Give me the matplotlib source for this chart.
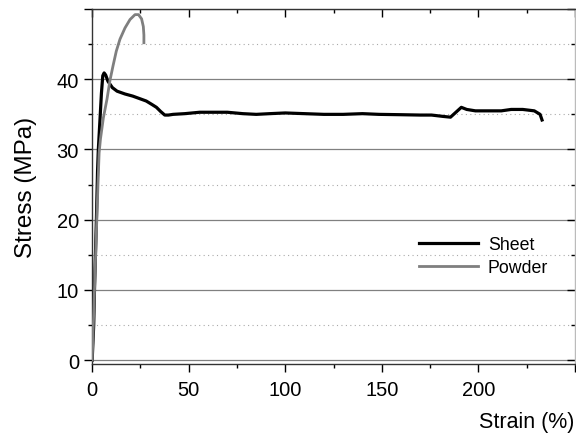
import matplotlib
matplotlib.use('Agg')
import matplotlib.pyplot as plt
from matplotlib.ticker import MultipleLocator, FuncFormatter

plt.rcParams['font.family'] = ['Liberation Sans', 'DejaVu Sans']

# Sheet curve (strain %, stress MPa)
sheet_strain = [0, 0.8, 1.2, 2.2, 2.8, 3.2, 4.0, 4.8, 5.5, 6.2, 7.0, 8.2, 10.5, 12.9, 17, 21, 25, 28,
                31, 33.3, 35.5, 37.6, 39.5, 41.9, 48, 55.7, 62, 70, 78, 85, 92, 100, 110, 120, 130,
                140, 148.5, 160, 170, 175.8, 182, 185.6, 188, 191.2, 194, 198.5, 205, 211.9, 217,
                223, 229, 232, 233]
sheet_stress = [0, 5, 10, 20, 27, 30, 34, 38, 40.5, 40.9, 40.6, 39.7, 38.8, 38.3, 37.9, 37.6, 37.2, 36.9,
                36.4, 36.0, 35.4, 34.9, 34.9, 35.0, 35.1, 35.3, 35.3, 35.3, 35.1, 35.0, 35.1, 35.2,
                35.1, 35.0, 35.0, 35.1, 35.0, 34.95, 34.9, 34.9, 34.7, 34.6, 35.2, 36.0, 35.7, 35.5,
                35.5, 35.5, 35.7, 35.7, 35.5, 35.0, 34.2]

# Powder curve
powder_strain = [0, 0.6, 1.2, 2.4, 3.0, 3.6, 4.3, 5.8, 7.7, 9.2, 10.8, 12.5, 14.4, 17, 19.6, 22.2,
                 24.0, 25.6, 26.5, 26.8, 26.8]
powder_stress = [0, 5, 10, 20, 25, 29.5, 31.5, 34.5, 37.2, 39.8, 41.9, 44.0, 45.7, 47.3, 48.5, 49.2,
                 49.2, 48.6, 47.5, 46.3, 45.2]

fig = plt.figure(figsize=(5.76, 4.35), dpi=100)
ax = fig.add_axes([0.160, 0.160, 0.838, 0.817])

ax.plot(sheet_strain, sheet_stress, color='black', lw=2.3, label='Sheet', zorder=3)
ax.plot(powder_strain, powder_stress, color='#7f7f7f', lw=2.0, label='Powder', zorder=3)

ax.set_xlim(0, 250)
ax.set_ylim(-0.6, 50)

ax.xaxis.set_major_locator(MultipleLocator(50))
ax.xaxis.set_minor_locator(MultipleLocator(25))
ax.yaxis.set_major_locator(MultipleLocator(10))
ax.yaxis.set_minor_locator(MultipleLocator(5))
# last labels (250 and 50) are not shown in the original
ax.xaxis.set_major_formatter(FuncFormatter(lambda v, p: '' if v > 240 else '%d' % v))
ax.yaxis.set_major_formatter(FuncFormatter(lambda v, p: '' if v > 45 else '%d' % v))

# grid: solid major, dotted minor (y only)
ax.grid(axis='y', which='major', color='#808080', lw=0.9, ls='-', zorder=0)
ax.grid(axis='y', which='minor', color='#aaaaaa', lw=0.8, ls=(0, (1, 3)), zorder=0)
ax.set_axisbelow(True)

ax.tick_params(which='both', direction='out', top=True, right=True, labelsize=14.5)
ax.tick_params(which='major', length=6, width=1)
ax.tick_params(which='minor', length=3, width=1)
ax.tick_params(axis='x', pad=5)
# top and right ticks go inward
for t in ax.xaxis.get_major_ticks() + ax.xaxis.get_minor_ticks():
    t.tick2line.set_marker(3)
for t in ax.yaxis.get_major_ticks() + ax.yaxis.get_minor_ticks():
    t.tick2line.set_marker(0)

for sp in ax.spines.values():
    sp.set_color('#333333')
    sp.set_linewidth(1)
ax.spines['right'].set_color('#bbbbbb')

ax.set_ylabel('Stress (MPa)', fontsize=17.5, labelpad=14)
ax.set_xlabel('Strain (%)', fontsize=15.5, loc='right', labelpad=9)

ax.legend(loc='upper left', bbox_to_anchor=(0.645, 0.405), frameon=False,
          fontsize=12.8, handlelength=3.3, handletextpad=0.55, labelspacing=0.3)

fig.savefig('out.png', dpi=100)
